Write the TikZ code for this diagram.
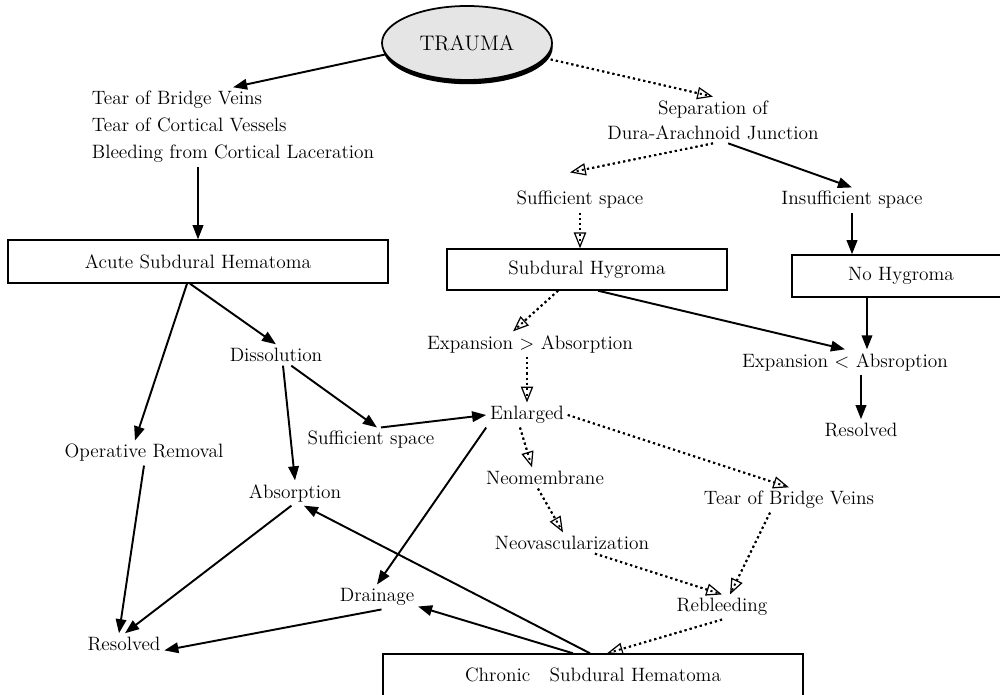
\documentclass[tikz,border=0pt]{standalone}
\usetikzlibrary{arrows.meta,shapes.geometric,shadows}
\begin{document}
\begin{tikzpicture}[scale=1.0,
		txt/.style={inner sep=2pt, font=\fontsize{11}{15.4}\selectfont},
		box/.style={draw, line width=0.8pt, inner sep=0pt, minimum height=0.84cm, font=\fontsize{11}{13}\selectfont},
		arr/.style={-{Triangle[length=8pt,width=6pt]}, line width=1.1pt},
		darr/.style={-{Triangle[open,length=9pt,width=7pt,line width=0.7pt]}, line width=1.1pt, dash pattern=on 1.2pt off 1.8pt, postaction={draw, -, shorten >=2.5pt}}]
			\useasboundingbox (0,0) rectangle (20,13.88);
			\clip (0,0) rectangle (20,13.88);
			
			\node[ellipse, draw, line width=1pt, fill=gray!20, minimum width=3.4cm, minimum height=1.48cm, drop shadow={shadow xshift=0.4pt, shadow yshift=-2.4pt, fill=black, opacity=1}, font=\fontsize{12}{14}\selectfont] (trauma) at (9.34,13.02) {TRAUMA};
			\node[txt, anchor=west, align=left] (causes) at (1.76,11.34) {Tear of Bridge Veins\\Tear of Cortical Vessels\\Bleeding from Cortical Laceration};
			\node[txt, align=center, font=\fontsize{11}{14.2}\selectfont] (sep) at (14.26,11.48) {Separation of\\Dura-Arachnoid Junction};
			
			\node[txt] (suffA) at (11.6,9.88) {Sufficient space};
			\node[txt] (insuff) at (17.04,9.88) {Insufficient space};
			\node[box, minimum width=7.6cm, minimum height=0.86cm] (acute) at (3.96,8.65) {Acute Subdural Hematoma};
			\node[box, minimum width=5.6cm, minimum height=0.82cm] (hygroma) at (11.74,8.49) {Subdural Hygroma};
			\node[box, minimum width=4.36cm] (nohyg) at (18.02,8.36) {No Hygroma};
			
			\node[txt] (dissol) at (5.52,6.78) {Dissolution};
			\node[txt] (expgt) at (10.6,7.0) {Expansion $>$ Absorption};
			\node[txt] (explt) at (16.9,6.64) {Expansion $<$ Absroption};
			\node[txt] (resolvedB) at (17.22,5.28) {Resolved};
			\node[txt] (enlarged) at (10.54,5.58) {Enlarged};
			\node[txt] (suffB) at (7.42,5.08) {Sufficient space};
			\node[txt] (operative) at (2.88,4.82) {Operative Removal};
			\node[txt] (neomem) at (10.9,4.32) {Neomembrane};
			\node[txt] (absorp) at (5.9,4.02) {Absorption};
			\node[txt] (tearB) at (15.78,3.88) {Tear of Bridge Veins};
			\node[txt] (neovasc) at (11.44,3.02) {Neovascularization};
			\node[txt] (drainage) at (7.54,1.94) {Drainage};
			\node[txt] (rebleed) at (14.44,1.74) {Rebleeding};
			\node[txt] (resolvedA) at (2.48,1.0) {Resolved};
			\node[box, minimum width=8.4cm] (chronic) at (11.86,0.38) {Chronic\hspace{1em}Subdural Hematoma};
			
			\draw[arr] (trauma.188) -- (causes.north);
			\draw[arr] (causes.south -| acute.north) -- (acute.north);
			\draw[darr] (trauma.-11) -- (sep.north);
			\draw[darr] (sep.south) -- ([xshift=-0.2cm,yshift=0.3cm]suffA.north);
			\draw[arr] (sep.-57) -- (insuff.north);
			\draw[arr] (insuff.south) -- (insuff.south |- nohyg.north);
			\draw[darr] (suffA.south) -- (suffA.south |- hygroma.north);
			
			\draw[darr] ([xshift=-0.58cm]hygroma.south) -- ([xshift=-0.34cm]expgt.north);
			\draw[arr] ([xshift=0.22cm]hygroma.south) -- (explt.north);
			\draw[arr] ([xshift=-0.68cm]nohyg.south) -- ([xshift=0.44cm]explt.north);
			\draw[arr] (resolvedB.north |- explt.south) -- (resolvedB.north);
			\draw[darr] (enlarged.north |- expgt.south) -- (enlarged.north);
			
			\draw[darr] ([xshift=-0.14cm]enlarged.south) -- ([xshift=-0.26cm]neomem.north);
			\draw[darr] ([xshift=-0.14cm]neomem.south) -- ([xshift=-0.18cm]neovasc.north);
			\draw[darr] ([xshift=0.46cm]neovasc.south) -- (rebleed.north);
			\draw[darr] (enlarged.east) -- (tearB.north);
			\draw[darr] ([xshift=-0.38cm]tearB.south) -- ([xshift=0.16cm]rebleed.north);
			\draw[darr] (rebleed.south) -- ([xshift=0.28cm]chronic.north);
			
			\draw[arr] ([xshift=-0.4cm]chronic.north) -- (drainage.-13);
			\draw[arr] ([xshift=-0.06cm]chronic.north) -- (absorp.-55);
			\draw[arr] (drainage.-70) -- (resolvedA.-9);
			\draw[arr] (absorp.-106) -- ([xshift=0.02cm]resolvedA.north);
			\draw[arr] (operative.south) -- ([xshift=-0.1cm]resolvedA.north);
			
			\draw[arr] ([xshift=-0.22cm]acute.south) -- ([xshift=-0.18cm]operative.north);
			\draw[arr] ([xshift=-0.16cm]acute.south) -- (dissol.north);
			\draw[arr] ([xshift=0.14cm]dissol.south) -- (absorp.north);
			\draw[arr] (dissol.-35) -- ([xshift=0.12cm]suffB.north);
			\draw[arr] ([xshift=0.2cm]suffB.north) -- (enlarged.west);
			\draw[arr] (enlarged.south west) -- (drainage.north);
		\end{tikzpicture}
\end{document}
